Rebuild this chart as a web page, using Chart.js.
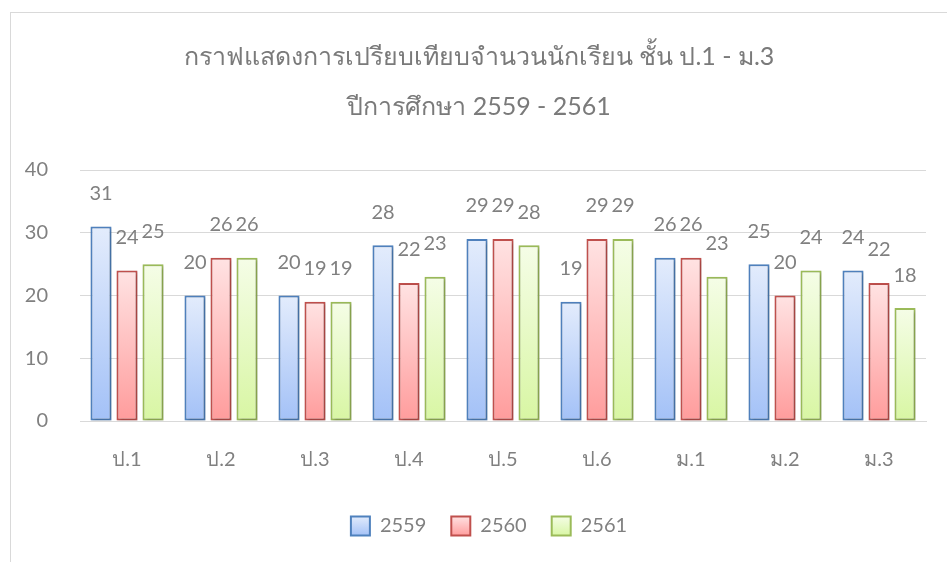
<!DOCTYPE html>
<html>
<head>
<meta charset="utf-8">
<script src="https://cdn.jsdelivr.net/npm/chart.js@4.4.1/dist/chart.umd.min.js"></script>
<style>
  html, body { margin: 0; padding: 0; background: #fff; overflow: hidden; }
  #frame { position: absolute; left: 10px; top: 12px; width: 1000px; height: 600px;
           border-left: 1px solid #d9d9d9; border-top: 1px solid #d9d9d9; }
  #wrap { position: absolute; left: 0; top: 0; width: 947px; height: 562px; }
</style>
</head>
<body>
<div id="frame"></div>
<div id="wrap"><canvas id="chart" width="947" height="562"></canvas></div>
<script>
// ข้อมูลจำนวนนักเรียน
const classNames = ['ป.1', 'ป.2', 'ป.3', 'ป.4', 'ป.5', 'ป.6', 'ม.1', 'ม.2', 'ม.3'];
const years = ['2559', '2560', '2561'];
const students2559 = [31, 20, 20, 28, 29, 19, 26, 25, 24];
const students2560 = [24, 26, 19, 22, 29, 29, 26, 20, 22];
const students2561 = [25, 26, 19, 23, 28, 29, 23, 24, 18];
const yTicks = [0, 10, 20, 30, 40];

const fontFamily = "'Lato', 'Noto Sans', 'DejaVu Sans', sans-serif";
const textColor = '#808080';

// สีไล่ระดับแบบ Excel
const palette = [
  { top: '#e3ecfc', bottom: '#a3c1f7', border: '#4f81bd' },
  { top: '#ffe3e3', bottom: '#ff9c9c', border: '#c0504d' },
  { top: '#f5fde7', bottom: '#d8f6a3', border: '#9bbb59' },
];

function barGradient(p) {
  return function (ctx) {
    const chart = ctx.chart;
    const y = chart.scales.y;
    if (!chart.chartArea || !y || ctx.raw === undefined) return p.bottom;
    const top = y.getPixelForValue(ctx.raw);
    const bot = y.getPixelForValue(0);
    const g = chart.ctx.createLinearGradient(0, top, 0, bot);
    g.addColorStop(0, p.top);
    g.addColorStop(1, p.bottom);
    return g;
  };
}

const seriesData = [students2559, students2560, students2561];
const datasets = years.map((yr, i) => ({
  label: yr,
  data: seriesData[i],
  backgroundColor: barGradient(palette[i]),
  borderColor: palette[i].border,
  borderWidth: 2,
  borderSkipped: false,
  barPercentage: 0.81,
  categoryPercentage: 0.83,
}));

// เงาแท่งกราฟ
const shadowPlugin = {
  id: 'barShadow',
  beforeDatasetsDraw(chart) {
    const c = chart.ctx;
    c.save();
    c.shadowColor = 'rgba(0,0,0,0.28)';
    c.shadowBlur = 3;
    c.shadowOffsetX = 1.5;
    c.shadowOffsetY = 1.5;
  },
  afterDatasetsDraw(chart) {
    chart.ctx.restore();
  }
};

// ป้ายค่าเหนือแท่ง
const valueLabels = {
  id: 'valueLabels',
  afterDraw(chart) {
    const c = chart.ctx;
    c.save();
    c.font = '20px ' + fontFamily;
    c.fillStyle = textColor;
    c.textAlign = 'center';
    c.textBaseline = 'middle';
    chart.data.datasets.forEach((ds, i) => {
      const meta = chart.getDatasetMeta(i);
      meta.data.forEach((bar, j) => {
        c.fillText(ds.data[j], bar.x, bar.y - 33);
      });
    });
    c.restore();
  }
};

// ขยับ title / legend ให้ตรงกลางกรอบ และ legend สีไล่ระดับ
const legendGradient = {
  id: 'legendGradient',
  afterLayout(chart) {
    if (chart.legend) { chart.legend.left += 14; chart.legend.right += 14; }
    if (chart.titleBlock) { chart.titleBlock.left += 4; chart.titleBlock.right += 4; }
  },
  beforeDraw(chart) {
    const lg = chart.legend;
    if (!lg || !lg.legendItems) return;
    lg.legendItems.forEach((item, i) => {
      const box = lg.legendHitBoxes[i];
      if (!box) return;
      const g = chart.ctx.createLinearGradient(0, box.top, 0, box.top + box.height);
      g.addColorStop(0, palette[i].top);
      g.addColorStop(1, palette[i].bottom);
      item.fillStyle = g;
    });
  }
};

new Chart(document.getElementById('chart'), {
  type: 'bar',
  data: { labels: classNames, datasets: datasets },
  plugins: [legendGradient, shadowPlugin, valueLabels],
  options: {
    responsive: false,
    animation: false,
    layout: { padding: { left: 24, right: 21, top: 0, bottom: 16 } },
    scales: {
      x: {
        grid: { display: false },
        border: { color: '#d9d9d9', width: 1 },
        ticks: { color: textColor, font: { family: fontFamily, size: 20 }, padding: 19 },
      },
      y: {
        min: 0,
        max: 40,
        afterBuildTicks(scale) { scale.ticks = yTicks.map(v => ({ value: v })); },
        afterFit(scale) { scale.width = 56; },
        grid: { color: '#d9d9d9', lineWidth: 1, drawTicks: false },
        border: { display: false },
        ticks: { color: textColor, font: { family: fontFamily, size: 20 }, padding: 32 },
      }
    },
    plugins: {
      title: {
        display: true,
        text: ['กราฟแสดงการเปรียบเทียบจำนวนนักเรียน ชั้น ป.1 - ม.3', 'ปีการศึกษา 2559 - 2561'],
        color: '#7a7a7a',
        font: { family: fontFamily, size: 25, weight: 'normal', lineHeight: 2 },
        padding: { top: 32, bottom: 38 },
      },
      legend: {
        position: 'bottom',
        labels: {
          color: textColor,
          font: { family: fontFamily, size: 20 },
          boxWidth: 19,
          boxHeight: 19,
          padding: 25,
        }
      },
      tooltip: { enabled: false }
    }
  }
});
</script>
</body>
</html>
